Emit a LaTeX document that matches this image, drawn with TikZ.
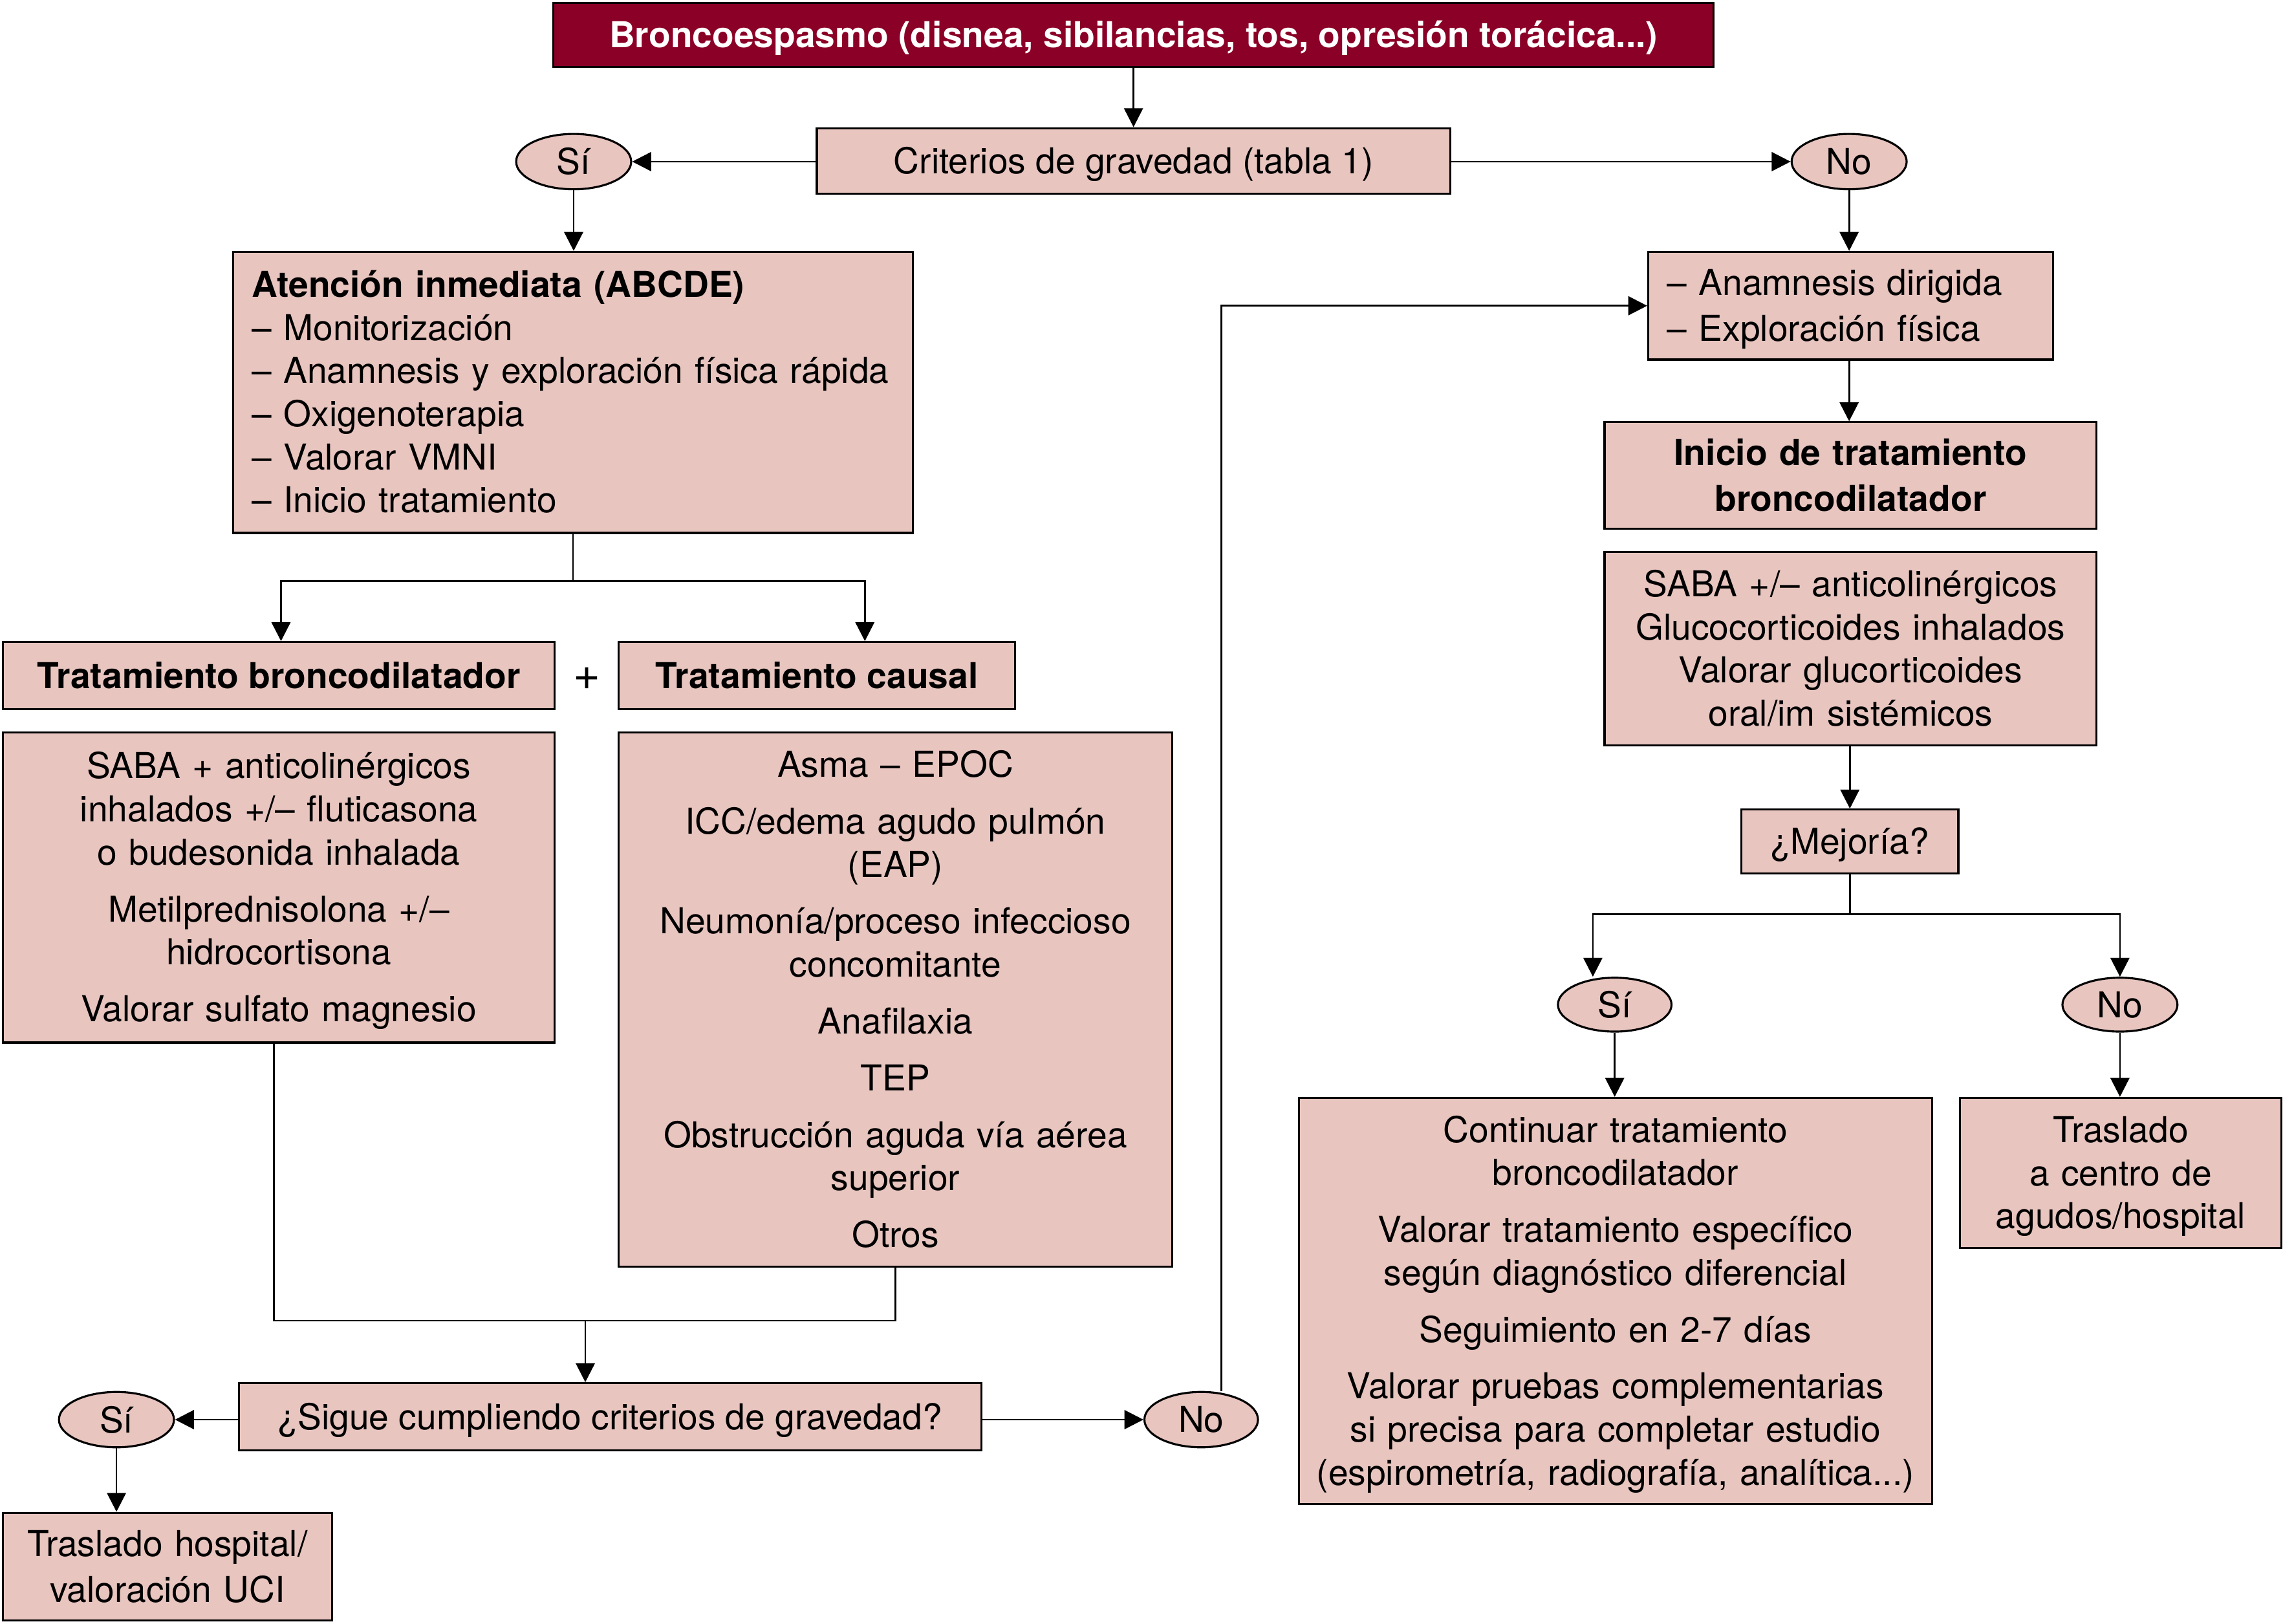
\documentclass[tikz,border=0pt]{standalone}
\usepackage{fontspec}
\setmainfont{TeX Gyre Heros}
\usetikzlibrary{arrows.meta,shapes.geometric}
\definecolor{pinkc}{RGB}{232,197,191}
\definecolor{darkredc}{RGB}{139,0,38}
\newcommand\fsz{\fontsize{24.5}{29.6}\selectfont}
\newcommand\mystrut{\rule[-6.6pt]{0pt}{30.6pt}}
\begin{document}
\begin{tikzpicture}[x=1pt,y=-1pt,
  box/.style={draw=black, fill=pinkc, line width=1.4pt, inner sep=0pt, align=center, font=\fsz,
    execute at begin node={\mystrut}, execute at end node={\mystrut}},
  oval/.style={ellipse, draw=black, fill=pinkc, line width=1.4pt, inner sep=0pt, font=\fsz},
  arr/.style={line width=1.2pt, -{Triangle[length=13pt,width=13pt]}},
  ln/.style={line width=1.2pt}]
\useasboundingbox (0,0) rectangle (1568,1115);

% nodes
\node[box, fill=darkredc, text=white, font=\fsz\bfseries, minimum width=797pt, minimum height=44pt] (header) at (778.5,24) {Broncoespasmo (disnea, sibilancias, tos, opresión torácica...)};
\node[box, minimum width=435pt, minimum height=45pt] (crit) at (778.5,110.5) {Criterios de gravedad (tabla 1)};
\node[oval, minimum width=79pt, minimum height=38pt] (siA) at (394,111) {Sí};
\node[oval, minimum width=79pt, minimum height=38pt] (noA) at (1270,111) {No};

\node[box, align=left, inner xsep=13pt, text width=441pt, minimum height=193pt] (aten) at (393.5,269.5) {\textbf{Atención inmediata (ABCDE)}\\– Monitorización\\– Anamnesis y exploración física rápida\\– Oxigenoterapia\\– Valorar VMNI\\– Inicio tratamiento};

\node[box, font=\fsz\bfseries, minimum width=379pt, minimum height=46pt] (bronc) at (191.5,464) {Tratamiento broncodilatador};
\node[font=\fontsize{32}{36}\selectfont, inner sep=0pt] (plus) at (403,466) {+};
\node[box, font=\fsz\bfseries, minimum width=272pt, minimum height=46pt] (causal) at (561,464) {Tratamiento causal};

\node[box, text width=370pt, minimum width=379pt, minimum height=213pt] (llist) at (191.5,609.5) {SABA + anticolinérgicos\\inhalados +/– fluticasona\\o budesonida inhalada\\[9.4pt]Metilprednisolona +/–\\hidrocortisona\\[9.4pt]Valorar sulfato magnesio};
\node[box, text width=370pt, minimum width=380pt, minimum height=367pt] (clist) at (615,686.5) {Asma – EPOC\\[9.4pt]ICC/edema agudo pulmón\\(EAP)\\[9.4pt]Neumonía/proceso infeccioso\\concomitante\\[9.4pt]Anafilaxia\\[9.4pt]TEP\\[9.4pt]Obstrucción aguda vía aérea\\superior\\[9.4pt]Otros};

\node[box, minimum width=510pt, minimum height=46pt] (sigue) at (419,973) {¿Sigue cumpliendo criterios de gravedad?};
\node[oval, minimum width=79pt, minimum height=38pt] (siB) at (80,975) {Sí};
\node[oval, minimum width=78pt, minimum height=38pt] (noB) at (825,975) {No};
\node[box, text width=216pt, minimum width=226pt, minimum height=74pt] (trasA) at (115,1076) {Traslado hospital/\\valoración UCI};

\node[box, align=left, inner xsep=13pt, text width=252pt, minimum height=74pt] (anam) at (1271,210) {– Anamnesis dirigida\\– Exploración física};
\node[box, font=\fsz\bfseries, text width=330pt, minimum width=338pt, minimum height=73pt] (inicio) at (1271,326.5) {Inicio de tratamiento\\broncodilatador};
\node[box, text width=330pt, minimum width=338pt, minimum height=133pt] (saba) at (1271,445.5) {SABA +/– anticolinérgicos\\Glucocorticoides inhalados\\Valorar glucorticoides\\oral/im sistémicos};
\node[box, minimum width=149pt, minimum height=44pt] (mej) at (1270.5,578) {¿Mejoría?};
\node[oval, minimum width=78pt, minimum height=37pt] (siC) at (1109,690) {Sí};
\node[oval, minimum width=79pt, minimum height=37pt] (noC) at (1456,690) {No};
\node[box, text width=427pt, minimum width=435pt, minimum height=279pt] (cont) at (1109.5,893.5) {Continuar tratamiento\\broncodilatador\\[9.4pt]Valorar tratamiento específico\\según diagnóstico diferencial\\[9.4pt]Seguimiento en 2-7 días\\[9.4pt]Valorar pruebas complementarias\\si precisa para completar estudio\\(espirometría, radiografía, analítica...)};
\node[box, text width=213pt, minimum width=221pt, minimum height=103pt] (trasB) at (1456.5,805.5) {Traslado\\a centro de\\agudos/hospital};

% helper coordinates
\coordinate (jA) at (394,399);
\coordinate (xB) at (193,0);
\coordinate (xC) at (594,0);
\coordinate (xL) at (188,0);
\coordinate (jB) at (402,907);
\coordinate (xN) at (839,0);
\coordinate (jC) at (1270.5,628);
\coordinate (xS) at (1094,0);

% connectors
\draw[arr] (header) -- (crit);
\draw[arr] (crit.west |- siA) -- (siA);
\draw[arr] (crit.east |- noA) -- (noA);
\draw[arr] (siA.south) -- (siA.south |- aten.north);
\draw[ln] (aten.south) |- (jA);
\draw[arr] (jA) -| (xB |- bronc.north);
\draw[arr] (jA) -| (xC |- causal.north);
\draw[ln] (xL |- llist.south) |- (jB);
\draw[ln] (jB) -| (clist.south);
\draw[arr] (jB) -- (jB |- sigue.north);
\draw[arr] (sigue.west |- siB) -- (siB);
\draw[arr] (siB.south) -- (siB.south |- trasA.north);
\draw[arr] (sigue.east |- noB) -- (noB);
\draw[arr] (xN |- noB.north) |- (anam.west);
\draw[arr] (noA.south) -- (noA.south |- anam.north);
\draw[arr] (anam.south -| noA) -- (noA |- inicio.north);
\draw[arr] (saba.south -| mej) -- (mej.north);
\draw[ln] (mej.south) -- (jC);
\draw[arr] (jC) -| (xS |- siC.north);
\draw[arr] (jC) -| (noC.north);
\draw[arr] (siC.south) -- (siC.south |- cont.north);
\draw[arr] (noC.south) -- (noC.south |- trasB.north);
\end{tikzpicture}
\end{document}
